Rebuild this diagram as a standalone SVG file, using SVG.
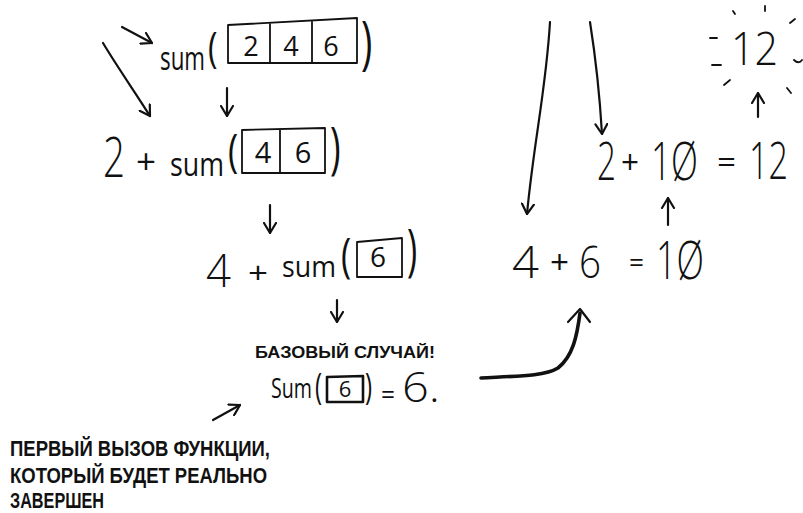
<svg xmlns="http://www.w3.org/2000/svg" width="803" height="513" viewBox="0 0 803 513">
<style>
.h{font-family:"Open Sans","Liberation Sans",sans-serif;font-weight:400;fill:#111}
.b{font-weight:300}
.cap{font-family:"Liberation Sans","DejaVu Sans",sans-serif;font-weight:bold;fill:#111}
.box{fill:none;stroke:#111;stroke-width:1.8;stroke-linejoin:round}
.ln{fill:none;stroke:#111;stroke-width:2.2;stroke-linecap:round;stroke-linejoin:round}
.ray{fill:none;stroke:#111;stroke-width:1.8;stroke-linecap:round}
</style>
<defs>
<marker id="ah" viewBox="0 0 12 14" refX="11" refY="7" markerWidth="12" markerHeight="14" markerUnits="userSpaceOnUse" orient="auto">
<path d="M1,1 L11,7 L1,13" fill="none" stroke="#111" stroke-width="2.2" stroke-linecap="round" stroke-linejoin="round"/>
</marker>
</defs>
<rect width="803" height="513" fill="#fff"/>

<g id="connectors">
<path class="ln" d="M122,27 L152,43" marker-end="url(#ah)"/>
<path class="ln" d="M103,43 C118,68 135,92 150,116" marker-end="url(#ah)"/>
<path class="ln" d="M227,88 L227,116" marker-end="url(#ah)"/>
<path class="ln" d="M270,205 L270,233" marker-end="url(#ah)"/>
<path class="ln" d="M337,300 L337,322" marker-end="url(#ah)"/>
<path class="ln" d="M213,420 L240,405" marker-end="url(#ah)"/>
<path class="ln" d="M550,22 C546,90 534,140 527,214" marker-end="url(#ah)"/>
<path class="ln" d="M590,22 C596,60 600,100 602,134" marker-end="url(#ah)"/>
<path class="ln" d="M668,225 L668,198" marker-end="url(#ah)"/>
<path class="ln" d="M758,117 L758,93" marker-end="url(#ah)"/>
<path d="M481,378 C520,376 545,376 558,368 C573,356 577,336 580,313" fill="none" stroke="#111" stroke-width="3.6" stroke-linecap="round"/>
<path class="ln" d="M568,322 L580,309 L590,322" stroke-width="2.8"/>
</g>

<g id="call1">
<text class="h" x="160" y="70" font-size="33" textLength="45" lengthAdjust="spacingAndGlyphs">sum</text>
<text class="h" transform="translate(208,62) scale(1.15,1.5)" font-size="28">(</text>
<path class="box" d="M228,25 L357,18 L357,63 L228,63 Z M270,23 L270,63 M312,20 L312,63"/>
<text class="h" x="251" y="56" font-size="27" text-anchor="middle">2</text>
<text class="h" x="291" y="56" font-size="27" text-anchor="middle">4</text>
<text class="h" x="331" y="56" font-size="27" text-anchor="middle">6</text>
<text class="h" transform="translate(361,63) scale(1.2,1.85)" font-size="32">)</text>
</g>

<g id="call2">
<text class="h b" x="103" y="177" font-size="56" textLength="22" lengthAdjust="spacingAndGlyphs">2</text>
<text class="h" x="136" y="174" font-size="34" textLength="20" lengthAdjust="spacingAndGlyphs">+</text>
<text class="h" x="170" y="176" font-size="33" textLength="54" lengthAdjust="spacingAndGlyphs">sum</text>
<text class="h" transform="translate(228,167) scale(1.15,1.5)" font-size="30">(</text>
<path class="box" d="M242,130 L325,128 L325,173 L242,173 Z M280,129 L280,173"/>
<text class="h" x="263" y="163" font-size="29" text-anchor="middle">4</text>
<text class="h" x="303" y="163" font-size="29" text-anchor="middle">6</text>
<text class="h" transform="translate(330,168) scale(1.2,1.9)" font-size="30">)</text>
</g>

<g id="call3">
<text class="h b" x="206" y="287" font-size="46" textLength="25" lengthAdjust="spacingAndGlyphs">4</text>
<text class="h" x="248" y="283" font-size="30" textLength="20" lengthAdjust="spacingAndGlyphs">+</text>
<text class="h" x="282" y="277" font-size="29" textLength="54" lengthAdjust="spacingAndGlyphs">sum</text>
<text class="h" transform="translate(341,271.5) scale(1.15,1.6)" font-size="30">(</text>
<path class="box" d="M357,242 L402,238 L402,277 L357,277 Z"/>
<text class="h" x="378" y="267" font-size="28" text-anchor="middle">6</text>
<text class="h" transform="translate(407,269.5) scale(1.15,1.87)" font-size="30">)</text>
</g>

<g id="base">
<text class="cap" x="255" y="358" font-size="16" textLength="180" lengthAdjust="spacingAndGlyphs">БАЗОВЫЙ СЛУЧАЙ!</text>
<text class="h" x="271" y="398" font-size="28" textLength="41" lengthAdjust="spacingAndGlyphs">Sum</text>
<text class="h" transform="translate(315,399.4) scale(1,1.5)" font-size="24">(</text>
<path class="box" style="stroke-width:2.6" d="M327,377 L363,376 L363,402 L327,402 Z"/>
<text class="h" x="345" y="397" font-size="22" font-weight="700" text-anchor="middle">6</text>
<text class="h" transform="translate(365,399.4) scale(1,1.5)" font-size="24">)</text>
<text class="h" x="381" y="404" font-size="28" textLength="14" lengthAdjust="spacingAndGlyphs">=</text>
<text class="h b" x="402" y="402" font-size="42" textLength="38" lengthAdjust="spacingAndGlyphs">6.</text>
</g>

<g id="note">
<text class="cap" x="10" y="456" font-size="22" textLength="260" lengthAdjust="spacingAndGlyphs">ПЕРВЫЙ ВЫЗОВ ФУНКЦИИ,</text>
<text class="cap" x="10" y="483" font-size="22" textLength="257" lengthAdjust="spacingAndGlyphs">КОТОРЫЙ БУДЕТ РЕАЛЬНО</text>
<text class="cap" x="10" y="508" font-size="22" textLength="94" lengthAdjust="spacingAndGlyphs">ЗАВЕРШЕН</text>
</g>

<g id="sum12">
<text class="h b" x="597" y="180" font-size="54" textLength="19" lengthAdjust="spacingAndGlyphs">2</text>
<text class="h" x="621" y="174" font-size="32" textLength="18" lengthAdjust="spacingAndGlyphs">+</text>
<text class="h b" x="651" y="180" font-size="54" textLength="47" lengthAdjust="spacingAndGlyphs">1Ø</text>
<text class="h" x="717" y="172" font-size="30" textLength="19" lengthAdjust="spacingAndGlyphs">=</text>
<text class="h b" x="749" y="179" font-size="52" textLength="39" lengthAdjust="spacingAndGlyphs">12</text>
</g>

<g id="sum10">
<text class="h b" x="512" y="278" font-size="44" textLength="27" lengthAdjust="spacingAndGlyphs">4</text>
<text class="h" x="550" y="274" font-size="32" textLength="19" lengthAdjust="spacingAndGlyphs">+</text>
<text class="h b" x="579" y="278" font-size="44" textLength="22" lengthAdjust="spacingAndGlyphs">6</text>
<text class="h" x="629" y="272" font-size="28" textLength="15" lengthAdjust="spacingAndGlyphs">=</text>
<text class="h b" x="656" y="279" font-size="54" textLength="48" lengthAdjust="spacingAndGlyphs">1Ø</text>
</g>

<g id="result">
<text class="h b" x="731" y="65" font-size="46" textLength="47" lengthAdjust="spacingAndGlyphs">12</text>
<path class="ray" d="M733,11 L735,14 M765,6 L765,11 M790,23 L795,19 M710,38 L717,38 M712,65 L721,65 M794,60 C797,63 800,63 802,60 M724,85 L730,80 M787,88 L791,93"/>
</g>
</svg>
